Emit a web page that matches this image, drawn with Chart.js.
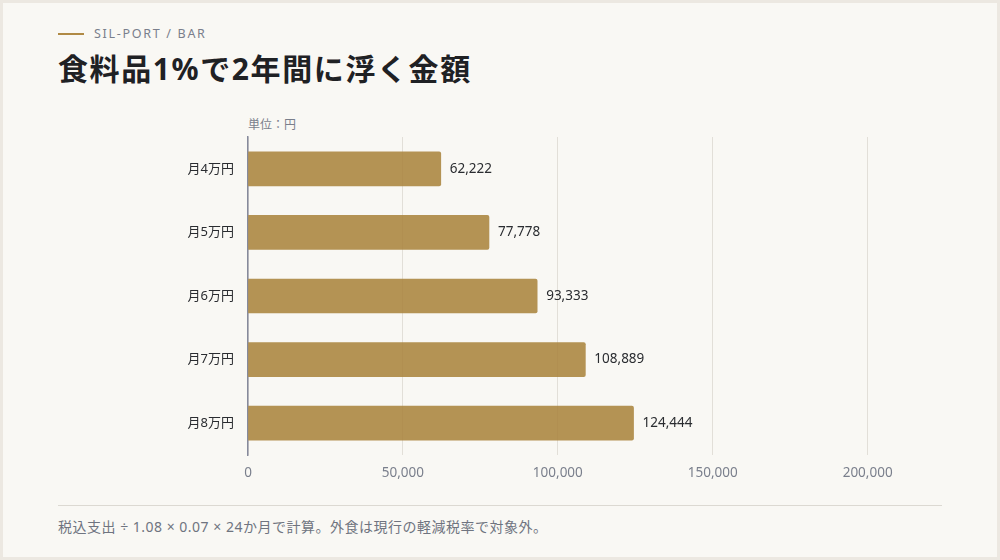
<!DOCTYPE html>
<html lang="ja">
<head>
<meta charset="utf-8">
<script src="https://cdn.jsdelivr.net/npm/chart.js@4/dist/chart.umd.min.js"></script>
<style>
  html,body{margin:0;padding:0;}
  body{width:1000px;height:560px;background:#ece8e1;position:relative;overflow:hidden;
       font-family:"Noto Sans","Noto Sans CJK JP",sans-serif;}
  .card{position:absolute;left:3px;top:3px;width:994px;height:554px;background:#f9f8f4;}
  .kline{position:absolute;left:58px;top:33px;width:26px;height:2px;background:#b08a45;}
  .kicker{position:absolute;left:94px;top:25px;font-size:12.5px;letter-spacing:1.7px;color:#7a7f8c;}
  h1{position:absolute;left:58px;top:48px;margin:0;font-size:30px;font-weight:700;color:#1f2124;letter-spacing:1.6px;line-height:42px;}
  .unit{position:absolute;left:248px;top:115px;font-size:12px;color:#7a7f8c;}
  .wrap{position:absolute;left:58px;top:110px;width:884px;height:385px;}
  .rule{position:absolute;left:58px;top:505px;width:884px;height:1px;background:#dcd9d2;}
  .note{position:absolute;left:58px;top:516px;font-size:14px;letter-spacing:0.5px;color:#6f7480;}
</style>
</head>
<body>
<div class="card"></div>
<div class="kline"></div>
<div class="kicker">SIL-PORT / BAR</div>
<h1>食料品1%で2年間に浮く金額</h1>
<div class="unit">単位：円</div>
<div class="wrap"><canvas id="c"></canvas></div>
<div class="rule"></div>
<div class="note">税込支出 ÷ 1.08 × 0.07 × 24か月で計算。外食は現行の軽減税率で対象外。</div>
<script>
const categories = ["月4万円","月5万円","月6万円","月7万円","月8万円"];
const values = [62222, 77778, 93333, 108889, 124444];
const tickValues = [0, 50000, 100000, 150000, 200000];
const axisMax = 224000;

const FONT = '"Noto Sans","Noto Sans CJK JP",sans-serif';

const valueLabels = {
  id:'valueLabels',
  afterDatasetsDraw(chart){
    const ctx = chart.ctx;
    const meta = chart.getDatasetMeta(0);
    ctx.save();
    ctx.font = '13.5px ' + FONT;
    ctx.fillStyle = '#2a2c30';
    ctx.textAlign = 'left';
    ctx.textBaseline = 'middle';
    meta.data.forEach((bar,i)=>{
      ctx.fillText(values[i].toLocaleString('en-US'), bar.x + 9, bar.y);
    });
    ctx.restore();
  }
};

new Chart(document.getElementById('c'), {
  type:'bar',
  data:{
    labels:categories,
    datasets:[{
      data:values,
      backgroundColor:'rgba(170,132,62,0.88)',
      borderWidth:0,
      borderRadius:2,
      borderSkipped:'start',
      barThickness:34
    }]
  },
  options:{
    indexAxis:'y',
    responsive:true,
    maintainAspectRatio:false,
    animation:false,
    layout:{padding:{top:27,right:0,bottom:0,left:0}},
    plugins:{legend:{display:false},tooltip:{enabled:false}},
    scales:{
      x:{
        min:0,max:axisMax,
        afterBuildTicks(scale){ scale.ticks = tickValues.map(v=>({value:v})); },
        afterFit(scale){ scale.height = 40; },
        grid:{color:'#e2dfd8',lineWidth:1,drawTicks:false},
        border:{display:false},
        ticks:{padding:10,color:'#7a7f8c',font:{size:13.5,family:FONT},
               callback:(v)=>Number(v).toLocaleString('en-US')}
      },
      y:{
        afterFit(scale){ scale.width = 190; },
        grid:{display:false,drawTicks:false},
        border:{display:true,color:'#868a9c',width:1.5},
        ticks:{padding:14,color:'#2a2c30',font:{size:13,family:FONT}}
      }
    }
  },
  plugins:[valueLabels]
});
</script>
</body>
</html>
